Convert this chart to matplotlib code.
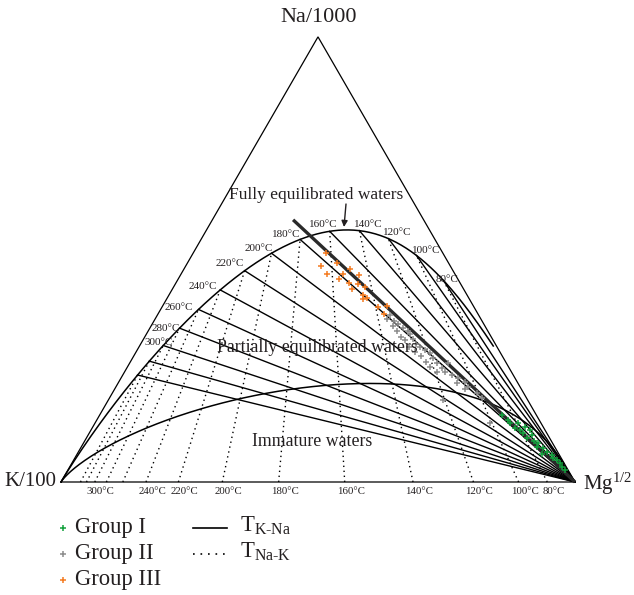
import numpy as np
import matplotlib.pyplot as plt

plt.rcParams['font.family'] = ['Liberation Serif', 'DejaVu Serif']
plt.rcParams['mathtext.fontset'] = 'custom'
plt.rcParams['mathtext.rm'] = 'Liberation Serif'
plt.rcParams['mathtext.it'] = 'Liberation Serif:italic'

# isotherms (deg C) of the Giggenbach (1988) diagram
iso_temps = [80, 100, 120, 140, 160, 180, 200, 220, 240, 260, 280, 300, 320, 340]
curve_label_temps = [80, 100, 120, 140, 160, 180, 200, 220, 240, 260, 280, 300]
bottom_label_temps = [80, 100, 120, 140, 160, 180, 200, 220, 240, 300]

# thick line (Na/1000, K/100, Mg^0.5 in %)
thick_start = [58.9, 25.4, 15.7]

# samples, relative % of Na/1000 and Mg^0.5 (K/100 = 100 - Na - Mg)
g1_na = [15.1, 13.9, 13.2, 13.2, 12.1, 11.7, 10.9, 10.6, 9.8, 9.1, 8.7, 7.9, 7.6,
         6.8, 6.4, 6.1, 5.3, 4.9, 4.2, 3.4, 2.7, 12.4, 11.7]
g1_mg = [78.2, 80.1, 80.8, 82.4, 82.3, 83.5, 84.5, 86.3, 85.7, 87.4, 88.5, 88.6, 90.0,
         91.1, 90.3, 92.4, 93.1, 94.0, 95.0, 95.7, 96.7, 84.1, 85.4]
g2_na = [37.5, 36.6, 36.2, 35.0, 35.5, 34.5, 34.0, 34.0, 32.6, 33.2, 31.9, 32.1, 31.0,
         30.4, 30.3, 29.7, 29.1, 28.9, 28.2, 27.8, 27.0, 26.7, 25.9, 25.5, 24.8, 24.6,
         26.7, 24.0, 23.3, 22.5, 22.2, 21.4, 20.8, 19.9, 18.8, 13.3, 18.4]
g2_mg = [45.3, 45.2, 46.7, 47.0, 47.9, 49.2, 48.3, 50.6, 49.8, 51.3, 51.0, 52.5, 53.6,
         52.6, 54.7, 56.0, 54.3, 57.3, 55.9, 58.4, 57.5, 59.8, 58.8, 61.3, 62.3, 60.8,
         62.0, 64.0, 65.6, 67.3, 65.9, 68.5, 68.2, 70.9, 72.5, 76.8, 65.2]
g3_na = [51.4, 49.3, 48.6, 47.8, 46.8, 46.4, 46.8, 45.5, 44.7, 44.4, 43.7, 43.3, 42.0,
         41.3, 41.1, 39.4, 39.5, 37.7]
g3_mg = [25.9, 29.1, 26.3, 32.3, 28.4, 34.8, 31.4, 31.3, 33.6, 35.5, 37.2, 34.9, 37.8,
         38.9, 38.3, 42.0, 43.7, 44.0]

ink = '#231f20'
c_g1 = '#12a03c'
c_g2 = '#8c8c8c'
c_g3 = '#f47b20'


def tern(na, k, mg):
    na, k, mg = np.asarray(na, float), np.asarray(k, float), np.asarray(mg, float)
    s = na + k + mg
    return (mg + na / 2) / s, na / s * np.sqrt(3) / 2


def full_eq(tc):
    # components Na/1000, K/100, Mg^0.5 for K = 100
    T = np.asarray(tc, float) + 273.15
    na_k = 10 ** (1390 / T - 1.75)
    k_sqmg = 10 ** ((14.0 - 4410 / T) / 2)
    return na_k / 10, np.ones_like(T), 100 / k_sqmg


def kmg_base(tc):
    T = np.asarray(tc, float) + 273.15
    k_sqmg = 10 ** ((14.0 - 4410 / T) / 2)
    return np.zeros_like(T), np.ones_like(T), 100 / k_sqmg


def px(x, y):
    # layout helper: picture pixels -> axes data
    return (x - 61) / 514, (482 - y) / 514


fig = plt.figure(figsize=(6.34, 5.95), dpi=100)
ax = fig.add_axes([0, 0, 1, 1])
ax.set_xlim(-61 / 514, 573 / 514)
ax.set_ylim(-113 / 514, 482 / 514)
ax.axis('off')

# triangle
tx, ty = tern([0, 0, 1, 0], [1, 0, 0, 1], [0, 1, 0, 0])
ax.plot(tx, ty, color='black', lw=0.9, solid_joinstyle='miter')

# full equilibrium curve
t_curve = np.concatenate([np.linspace(40, 400, 300), np.linspace(400, 5000, 300)])
cx, cy = tern(*full_eq(t_curve))
ax.plot(cx, cy, color='black', lw=1.1)

# immature water boundary (Mi = 2.0)
q = np.logspace(-1, 9, 600)
ix, iy = tern(10 * q ** -0.63, np.ones_like(q), 100 / q)
ax.plot(ix, iy, color='black', lw=1.1)

# K-Na isotherms (solid, to Mg corner) and K-Mg isotherms (dotted)
mg_x, mg_y = tern(0, 0, 1)
ex, ey = tern(*full_eq(iso_temps))
bx, by = tern(*kmg_base(iso_temps))
for i in range(len(iso_temps)):
    ax.plot([ex[i], mg_x], [ey[i], mg_y], color='black', lw=1.0)
    ax.plot([bx[i], ex[i]], [by[i], ey[i]], color='black', lw=1.0,
            linestyle=(0, (1, 2.6)))

# thick reference line
sx, sy = tern(*thick_start)
ax.plot([sx, mg_x], [sy, mg_y], color='#2a2a2a', lw=2.4, solid_capstyle='butt')

# samples
for na, mg, col in [(g2_na, g2_mg, c_g2), (g3_na, g3_mg, c_g3), (g1_na, g1_mg, c_g1)]:
    na = np.array(na)
    mg = np.array(mg)
    x, y = tern(na, 100 - na - mg, mg)
    ax.plot(x, y, '+', color=col, ms=5, mew=1.1, linestyle='none')

# temperature labels on the equilibrium curve
label_off = {80: (4, -1), 100: (10, -4.5), 120: (9, -6), 140: (9, -6.4),
             160: (-6, -7), 180: (-14, -5), 200: (-12.5, -5), 220: (-14.7, -6.7),
             240: (-17, -3), 260: (-19.5, -1.5), 280: (-13.5, 0), 300: (-5, -3.5)}
lx, ly = tern(*full_eq(curve_label_temps))
for t, x, y in zip(curve_label_temps, lx, ly):
    dx, dy = label_off[t]
    ax.text(x + dx / 514, y - dy / 514, '%d°C' % t, fontsize=8, color=ink,
            ha='center', va='center')

# temperature labels under the base
bl_x, _ = tern(*kmg_base(bottom_label_temps))
for t, x in zip(bottom_label_temps, bl_x):
    ax.text(x + 6 / 514, -10 / 514, '%d°C' % t, fontsize=7.8, color=ink,
            ha='center', va='center')

# corner and field labels
ax.text(*px(319, 18), 'Na/1000', fontsize=16, color=ink, ha='center', va='center')
ax.text(*px(56, 482), 'K/100', fontsize=15, color=ink, ha='right', va='center')
ax.text(*px(583, 484), r'Mg$^{1/2}$', fontsize=15, color=ink, ha='left', va='center')
ax.text(*px(316, 195), 'Fully equilibrated waters', fontsize=12.5, color=ink,
        ha='center', va='center')
ax.text(*px(317, 348), 'Partially equilibrated waters', fontsize=12.8, color=ink,
        ha='center', va='center')
ax.text(*px(312, 441), 'Immature waters', fontsize=12.8, color=ink,
        ha='center', va='center')
ax.annotate('', xy=px(344, 227), xytext=px(346, 204),
            arrowprops=dict(arrowstyle='-|>', color=ink, lw=1.0,
                            mutation_scale=9, shrinkA=0, shrinkB=0))

# legend
rows = [528, 554, 580]
for (name, col), yy in zip([('Group I', c_g1), ('Group II', c_g2), ('Group III', c_g3)], rows):
    ax.plot(*px(63, yy), '+', color=col, ms=5, mew=1.1)
    ax.text(*px(75, yy), name, fontsize=16.3, color=ink, ha='left', va='center')
for (sub, ls), yy in zip([('K-Na', '-'), ('Na-K', (0, (1, 3.5)))], rows[:2]):
    x0, y0 = px(193, yy)
    x1, _ = px(227, yy)
    ax.plot([x0, x1], [y0, y0], color='black', lw=1.2, linestyle=ls)
    ax.text(*px(240, yy - 2), r'T$_{\mathrm{%s}}$' % sub.replace('-', r'\text{-}'),
            fontsize=16.3, color=ink, ha='left', va='center')

fig.savefig('out.png', dpi=100)
